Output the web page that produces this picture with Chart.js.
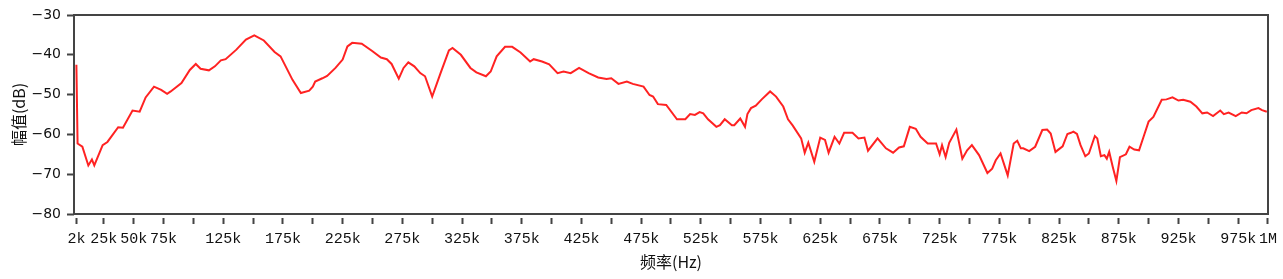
<!DOCTYPE html>
<html>
<head>
<meta charset="utf-8">
<script src="https://cdn.jsdelivr.net/npm/chart.js@4.4.0/dist/chart.umd.min.js"></script>
<style>
  body { margin: 0; background: #fff; }
</style>
</head>
<body>
<canvas id="chart" width="1283" height="279"></canvas>
<script>
// frequency points in kHz
const freqK = [
  2, 3, 7, 12, 15, 17, 24, 28, 37, 41, 49, 55, 60, 67, 73, 78, 81, 90, 97, 102,
  106, 113, 118, 123, 127, 136, 144, 151, 159, 168, 173, 183, 190, 197, 200, 202, 208, 212, 219, 225,
  229, 233, 241, 250, 257, 262, 266, 272, 276, 280, 285, 290, 294, 300, 307, 314, 317, 324, 332, 337,
  345, 349, 354, 361, 367, 374, 382, 385, 392, 398, 405, 410, 416, 423, 431, 439, 446, 450, 456, 463,
  468, 477, 482, 485, 489, 496, 505, 512, 516, 520, 524, 527, 531, 538, 541, 545, 551, 553, 558, 562,
  564, 567, 571, 576, 583, 588, 594, 598, 602, 609, 612, 615, 620, 625, 629, 632, 637, 641, 645, 652,
  657, 662, 665, 673, 680, 686, 691, 695, 700, 705, 709, 715, 722, 725, 727, 730, 733, 739, 744, 748,
  752, 758, 765, 769, 772, 776, 782, 787, 790, 793, 795, 800, 805, 811, 815, 818, 822, 828, 832, 835,
  837, 840, 843, 847, 850, 855, 857, 860, 863, 865, 867, 870, 873, 876, 881, 884, 888, 892, 896, 900,
  904, 911, 915, 920, 925, 929, 935, 940, 945, 949, 954, 960, 963, 967, 973, 978, 982, 986, 992, 995, 999
]

// amplitude in dB for each frequency point
const ampDb = [
  -42.5, -62.3, -63.1, -67.8, -66.3, -67.8, -62.7, -61.9, -58.2, -58.3, -54.0, -54.3, -50.7, -48.0, -48.8, -49.8, -49.2, -47.1, -43.8, -42.3,
  -43.5, -43.9, -42.9, -41.4, -41.1, -38.7, -36.2, -35.1, -36.4, -39.3, -40.4, -46.3, -49.6, -49.0, -48.0, -46.7, -45.9, -45.3, -43.3, -41.2,
  -37.9, -37.0, -37.2, -39.1, -40.7, -41.1, -42.3, -46.0, -43.3, -41.9, -42.9, -44.6, -45.4, -50.5, -44.6, -38.9, -38.3, -40.0, -43.3, -44.4,
  -45.4, -44.2, -40.4, -38.0, -38.0, -39.4, -41.7, -41.1, -41.7, -42.4, -44.6, -44.2, -44.6, -43.3, -44.6, -45.7, -46.1, -45.9, -47.3, -46.7,
  -47.3, -48.0, -50.1, -50.5, -52.4, -52.6, -56.2, -56.2, -54.9, -55.1, -54.4, -54.7, -56.2, -58.1, -57.7, -56.2, -57.7, -57.7, -56.0, -58.1,
  -54.9, -53.4, -52.8, -51.2, -49.2, -50.5, -53.0, -56.2, -57.8, -61.0, -64.6, -62.1, -66.9, -60.8, -61.4, -64.6, -60.6, -62.3, -59.6, -59.6,
  -61.0, -60.8, -64.1, -61.0, -63.5, -64.6, -63.3, -63.0, -58.1, -58.6, -60.6, -62.3, -62.3, -65.0, -62.7, -65.7, -62.1, -58.8, -66.1, -64.0,
  -62.7, -65.2, -69.7, -68.6, -66.5, -64.8, -70.3, -62.3, -61.6, -63.5, -63.5, -64.2, -63.1, -58.9, -58.8, -59.8, -64.4, -63.0, -59.9, -59.6,
  -59.3, -59.9, -62.7, -65.5, -64.8, -60.4, -61.0, -65.5, -65.2, -66.1, -64.4, -68.2, -71.7, -65.7, -65.0, -63.1, -63.8, -64.0, -60.4, -56.8,
  -55.6, -51.3, -51.2, -50.7, -51.5, -51.3, -51.8, -53.0, -54.7, -54.5, -55.4, -54.0, -54.9, -54.5, -55.4, -54.5, -54.7, -53.9, -53.4, -53.9, -54.3
]

// x tick positions (kHz) and which of them carry a label
const xTicks = [2, 25, 50, 75, 100, 125, 150, 175, 200, 225, 250, 275, 300, 325, 350, 375, 400, 425, 450, 475,
  500, 525, 550, 575, 600, 625, 650, 675, 700, 725, 750, 775, 800, 825, 850, 875, 900, 925, 950, 975, 1000]
const xLabeled = [2, 25, 50, 75, 125, 175, 225, 275, 325, 375, 425, 475, 525, 575, 625, 675, 725, 775, 825, 875, 925, 975, 1000]
const yTicks = [-80, -70, -60, -50, -40, -30]

// frame around the plot area
const frame = {
  id: 'frame',
  afterDraw(chart) {
    const a = chart.chartArea
    const ctx = chart.ctx
    ctx.save()
    ctx.strokeStyle = '#444'
    ctx.lineWidth = 2
    ctx.strokeRect(a.left, a.top, a.right - a.left, a.bottom - a.top)
    ctx.restore()
  }
}

const points = freqK.map((f, i) => ({ x: f, y: ampDb[i] }))

new Chart(document.getElementById('chart'), {
  type: 'line',
  data: {
    datasets: [{
      data: points,
      borderColor: '#ff2222',
      borderWidth: 2,
      pointRadius: 0,
      tension: 0,
      fill: false
    }]
  },
  options: {
    responsive: false,
    animation: false,
    layout: { padding: { top: 15, right: 11, left: 0, bottom: 0 } },
    plugins: { legend: { display: false }, tooltip: { enabled: false } },
    scales: {
      x: {
        type: 'linear',
        min: 0,
        max: 1000,
        afterFit: s => { s.height = 65 },
        afterBuildTicks: s => { s.ticks = xTicks.map(v => ({ value: v })) },
        border: { display: false },
        grid: {
          drawOnChartArea: false,
          color: '#444',
          tickWidth: 2,
          tickLength: 10,
          tickBorderDash: [0, 4, 6, 20]
        },
        ticks: {
          autoSkip: false,
          maxRotation: 0,
          padding: 6,
          color: '#111',
          font: { family: 'Liberation Mono', size: 15 },
          callback: v => {
            if (!xLabeled.includes(v)) return ''
            return v === 1000 ? '1M' : v + 'k'
          }
        },
        title: {
          display: true,
          text: '频率(Hz)',
          color: '#111',
          font: { family: 'Noto Sans CJK SC', size: 16 },
          padding: { top: 0, bottom: 7 }
        }
      },
      y: {
        min: -80,
        max: -30,
        afterFit: s => { s.width = 74 },
        afterBuildTicks: s => { s.ticks = yTicks.map(v => ({ value: v })) },
        border: { display: false },
        grid: {
          drawOnChartArea: false,
          color: '#444',
          tickWidth: 2,
          tickLength: 9,
          tickBorderDash: [0, 2, 7, 20]
        },
        ticks: {
          padding: 4,
          color: '#111',
          font: { family: 'DejaVu Sans', size: 14 },
          // long minus sign like the original
          callback: v => String(v).replace('-', '\u2212')
        },
        title: {
          display: true,
          text: '幅值(dB)',
          color: '#111',
          font: { family: 'Noto Sans CJK SC', size: 16 },
          padding: { top: 9, bottom: 0 }
        }
      }
    }
  },
  plugins: [frame]
})
</script>
</body>
</html>
